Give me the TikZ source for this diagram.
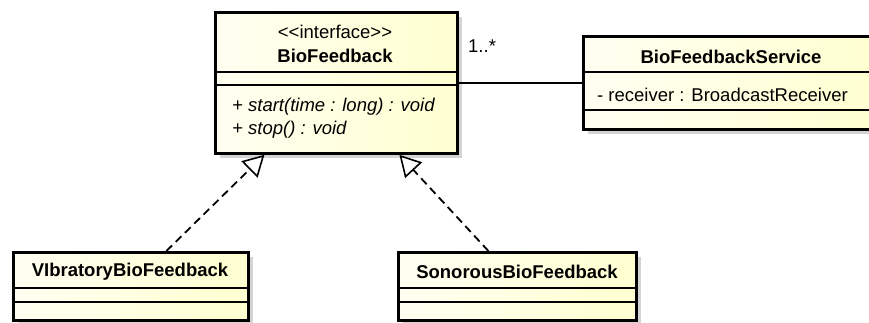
\documentclass[tikz,border=0pt]{standalone}
\usepackage{fontspec}
\setmainfont{Liberation Sans}
\usetikzlibrary{arrows.meta,shadows}

\definecolor{umlpale}{RGB}{255,255,242}
\definecolor{umlyellow}{RGB}{255,255,208}

\tikzset{
	classbox/.style={draw, line width=2.8pt, left color=umlpale, right color=umlyellow,
		drop shadow={shadow xshift=5pt, shadow yshift=-5pt, fill=black!17, opacity=1},
		inner sep=0pt, anchor=north west},
	sepline/.style={line width=1.3pt},
	realize/.style={line width=1.8pt, dash pattern=on 8pt off 5pt,
		-{Triangle[open, fill=white, length=21pt, width=23pt, line width=1.6pt]}},
	assoc/.style={line width=1.3pt},
	txt/.style={inner sep=0pt, font=\fontsize{18.5}{22}\selectfont},
	title/.style={txt, font=\fontsize{18.5}{22}\selectfont\bfseries},
	member/.style={txt, anchor=west}
}

\begin{document}
\begin{tikzpicture}[x=1pt,y=-1pt]
	\clip (0,0) rectangle (869,322);

	% classes
	\node[classbox, minimum width=242pt, minimum height=141pt] (bio) at (214,11) {};
	\node[classbox, minimum width=298pt, minimum height=93pt] (svc) at (582,35) {};
	\node[classbox, minimum width=235pt, minimum height=68pt] (vib) at (12,251) {};
	\node[classbox, minimum width=238pt, minimum height=68pt] (son) at (397,251) {};

	% compartments
	\draw [sepline] ([yshift=-61pt]bio.north west) -- ([yshift=-61pt]bio.north east);
	\draw [sepline] ([yshift=-74pt]bio.north west) -- ([yshift=-74pt]bio.north east);
	\draw [sepline] ([yshift=-37pt]svc.north west) -- ([yshift=-37pt]svc.north east);
	\draw [sepline] ([yshift=-75pt]svc.north west) -- ([yshift=-75pt]svc.north east);
	\draw [sepline] ([yshift=-37pt]vib.north west) -- ([yshift=-37pt]vib.north east);
	\draw [sepline] ([yshift=-51pt]vib.north west) -- ([yshift=-51pt]vib.north east);
	\draw [sepline] ([yshift=-37pt]son.north west) -- ([yshift=-37pt]son.north east);
	\draw [sepline] ([yshift=-51pt]son.north west) -- ([yshift=-51pt]son.north east);

	% texts
	\node[txt] (bioStereo) at (335,32) {\textless\kern0pt\textless interface\textgreater\kern0pt\textgreater};
	\node[title] (bioName) at (335,56) {BioFeedback};
	\node[member] (bioStart) at (232,107) {\itshape + start(time : long) : void};
	\node[member] (bioStop) at (232,130) {\itshape + stop() : void};
	\node[title] (svcName) at (731,57) {BioFeedbackService};
	\node[member] (svcRecv) at (597,95) {- receiver : BroadcastReceiver};
	\node[title] (vibName) at (130,272) {VIbratoryBioFeedback};
	\node[title] (sonName) at (517,272) {SonorousBioFeedback};

	% relations
	\draw [assoc] (bio.east) -- (svc.west);
	\node[txt, anchor=west] (mult) at (468,46) {1..*};
	\draw [realize] ([xshift=35.5pt]vib.north) -- ([xshift=-72pt]bio.south);
	\draw [realize] ([xshift=-29pt]son.north) -- ([xshift=63pt]bio.south);
\end{tikzpicture}
\end{document}
